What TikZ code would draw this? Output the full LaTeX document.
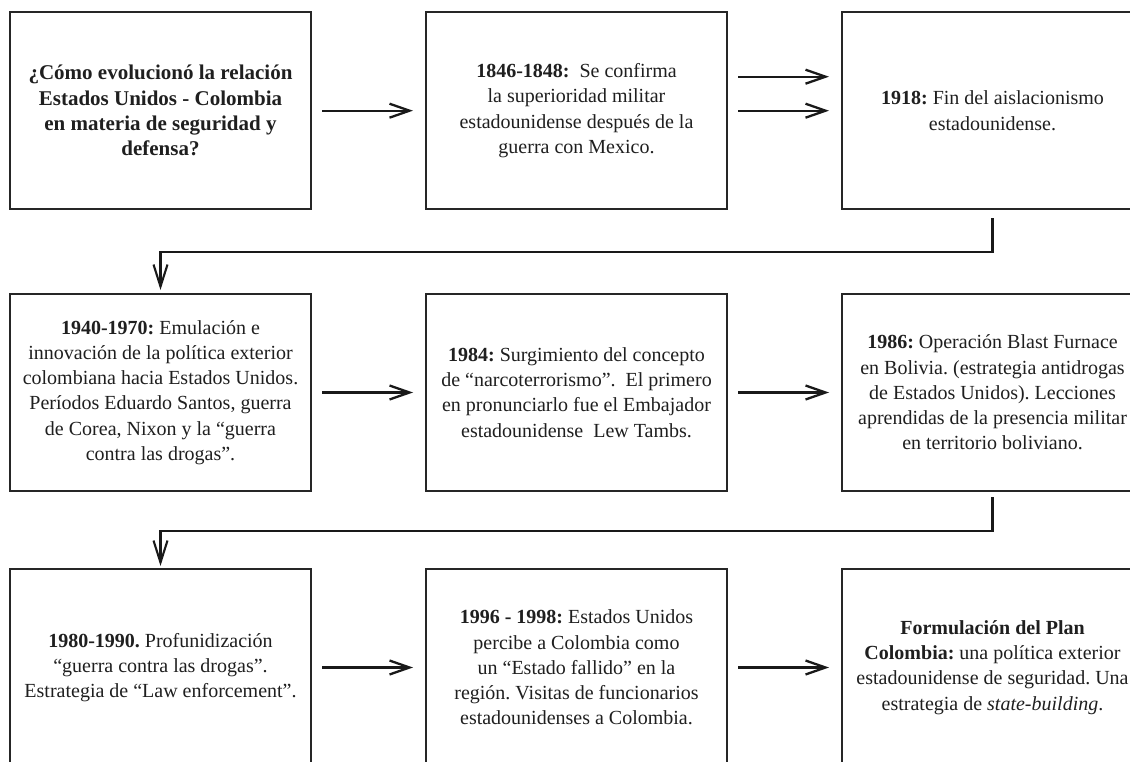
\documentclass[tikz,border=0pt]{standalone}
\usepackage{fontspec}
\setmainfont{Liberation Serif}
\usetikzlibrary{arrows.meta}
\tikzset{
  box/.style={draw=black!85, line width=1.9pt, fill=white, minimum width=301pt, minimum height=197pt,
    inner sep=0pt, outer sep=0pt, align=center, text=black!88,
    font=\frenchspacing\fontsize{20}{25.3}\selectfont},
  bigbold/.style={font=\frenchspacing\fontsize{21}{25.3}\selectfont\bfseries},
  arr/.style={line width=2.3pt, draw=black!90, -{Straight Barb[length=20pt,width=14pt]}},
  conn/.style={line width=2.1pt, draw=black!90, -{Straight Barb[length=22pt,width=14pt]}}
}
\begin{document}
\begin{tikzpicture}[x=1pt,y=-1pt]
\useasboundingbox (0,0) rectangle (1130,762);
\clip (0,0) rectangle (1130,762);
\fill[white] (0,0) rectangle (1130,762);
% row 1
\node[box,bigbold] (b1) at (160.5,110.7) {¿Cómo evolucionó la relación\\Estados Unidos - Colombia\\en materia de seguridad y\\defensa?};
\node[box] (b2) at (576.5,110.7) {\textbf{1846-1848:}~ Se confirma\\la superioridad militar\\estadounidense después de la\\guerra con Mexico.};
\node[box] (b3) at (992.5,110.7) {\textbf{1918:} Fin del aislacionismo\\estadounidense.};
% row 2
\node[box] (b4) at (160.5,392.5) {\textbf{1940-1970:} Emulación e\\innovación de la política exterior\\colombiana hacia Estados Unidos.\\Períodos Eduardo Santos, guerra\\de Corea, Nixon y la “guerra\\contra las drogas”.};
\node[box] (b5) at (576.5,392.5) {\textbf{1984:} Surgimiento del concepto\\de “narcoterrorismo”.~ El primero\\en pronunciarlo fue el Embajador\\estadounidense~ Lew Tambs.};
\node[box] (b6) at (992.5,392.5) {\textbf{1986:} Operación Blast Furnace\\en Bolivia. (estrategia antidrogas\\de Estados Unidos). Lecciones\\aprendidas de la presencia militar\\en territorio boliviano.};
% row 3
\node[box] (b7) at (160.5,667.5) {\textbf{1980-1990.} Profunidización\\“guerra contra las drogas”.\\Estrategia de “Law enforcement”.};
\node[box] (b8) at (576.5,667.5) {\textbf{1996 - 1998:} Estados Unidos\\percibe a Colombia como\\un “Estado fallido” en la\\región. Visitas de funcionarios\\estadounidenses a Colombia.};
\node[box] (b9) at (992.5,667.5) {\textbf{Formulación del Plan}\\\textbf{Colombia:} una política exterior\\estadounidense de seguridad. Una\\estrategia de \textit{state-building}.};
% horizontal arrows
\draw[arr] ([xshift=11pt]b1.east) -- ([xshift=-13pt]b2.west);
\draw[arr] ([xshift=11pt,yshift=34pt]b2.east) -- ([xshift=-13pt,yshift=34pt]b3.west);
\draw[arr] ([xshift=11pt]b2.east) -- ([xshift=-13pt]b3.west);
\draw[arr] ([xshift=11pt]b4.east) -- ([xshift=-13pt]b5.west);
\draw[arr] ([xshift=11pt]b5.east) -- ([xshift=-13pt]b6.west);
\draw[arr] ([xshift=11pt]b7.east) -- ([xshift=-13pt]b8.west);
\draw[arr] ([xshift=11pt]b8.east) -- ([xshift=-13pt]b9.west);
% row connectors
\coordinate (s1) at ([yshift=-9pt]b3.south);
\coordinate (e1) at ([yshift=4pt]b4.north);
\draw[conn] (s1) -- ++(0,34) -| (e1);
\coordinate (s2) at ([yshift=-6pt]b6.south);
\coordinate (e2) at ([yshift=3pt]b7.north);
\draw[conn] (s2) -- ++(0,34) -| (e2);
\end{tikzpicture}
\end{document}
